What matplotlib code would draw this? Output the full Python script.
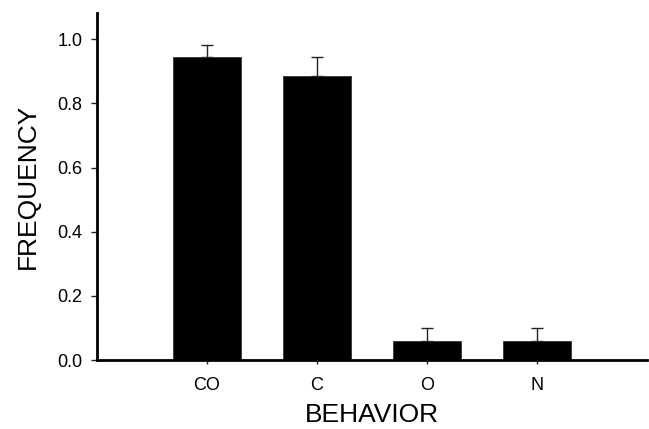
import matplotlib
matplotlib.use("Agg")
from matplotlib import pyplot
import numpy

pyplot.rcParams['font.family'] = ['Liberation Sans', 'DejaVu Sans']

behaviors = ['CO', 'C', 'O', 'N']
frequency = [0.943, 0.884, 0.060, 0.060]
errorUp = [0.040, 0.059, 0.040, 0.040]
yTicks = [0.0, 0.2, 0.4, 0.6, 0.8, 1.0]

figure = pyplot.figure(figsize=(6.49, 4.29), dpi=100)
axes = figure.add_axes([0.1495, 0.1608, 0.8475, 0.8092])

positions = numpy.arange(1, len(behaviors) + 1)
axes.bar(positions, frequency, width=0.61, color='black', edgecolor='#333333', linewidth=0.6,
         zorder=2)
axes.errorbar(positions, frequency, yerr=[numpy.zeros(len(errorUp)), errorUp], fmt='none',
              ecolor='#222222', elinewidth=1.0, capsize=4, capthick=1.0, zorder=1)

axes.set_xlim(0, 5)
axes.set_ylim(0, 1.082)
axes.set_xticks(positions)
axes.set_xticklabels(behaviors)
axes.set_yticks(yTicks)
axes.set_yticklabels(['%.1f' % t for t in yTicks])

for side in ['top', 'right']:
    axes.spines[side].set_visible(False)
for side in ['left', 'bottom']:
    axes.spines[side].set_linewidth(2.0)

axes.tick_params(axis='both', direction='out', width=1, color='#222222')
axes.tick_params(axis='x', length=3, pad=9, labelsize=13)
axes.tick_params(axis='y', length=4.3, pad=6, labelsize=13)

axes.set_xlabel('BEHAVIOR', fontsize=19, labelpad=7)
axes.set_ylabel('FREQUENCY', fontsize=19, labelpad=13)

figure.savefig('out.png', dpi=100)
